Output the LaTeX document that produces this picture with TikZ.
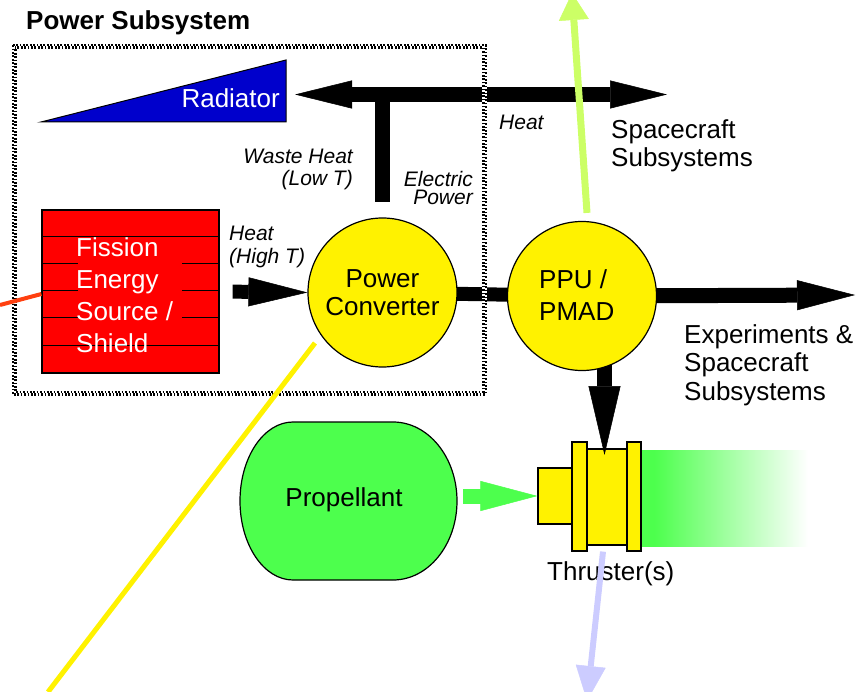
\documentclass[tikz,border=0pt]{standalone}
\usepackage{fontspec}
\setmainfont{Liberation Sans}
\usetikzlibrary{arrows.meta,backgrounds}

\definecolor{radblue}{HTML}{0000CC}
\definecolor{tankgreen}{HTML}{4DFF4D}
\definecolor{raygreen}{HTML}{CCFF66}
\definecolor{rayblue}{HTML}{CCCCFF}
\definecolor{rayred}{HTML}{FF4010}
\pgfdeclarehorizontalshading{plumefade}{100bp}{color(0bp)=(tankgreen); color(25bp)=(tankgreen); color(29bp)=(tankgreen); color(75bp)=(white); color(100bp)=(white)}

\begin{document}
\begin{tikzpicture}[x=1pt, y=-1pt,
  big/.style={font=\fontsize{26}{29}\selectfont, inner sep=0pt},
  note/.style={font=\fontsize{21}{23}\selectfont\itshape, inner sep=0pt},
  bubble/.style={circle, draw, line width=1.2pt, fill=yellow, minimum size=149pt, inner sep=0pt},
  part/.style={draw, line width=1.2pt, fill=yellow, inner sep=0pt},
  heavy/.style={line width=15pt},
  ray/.style={line width=#1}]
\useasboundingbox (0,0) rectangle (859,692);

\node[font=\fontsize{26}{29}\selectfont\bfseries, inner sep=0pt, anchor=base west] (title) at (26,30) {Power Subsystem};

% radiator
\draw[line width=1pt, fill=radblue] (41,122) -- (286,60) -- (286,122) -- cycle;
\node[big, white, anchor=base east] (radiator) at (280,108) {Radiator};

% reactor
\node[draw, line width=1.2pt, fill=red, minimum width=177pt, minimum height=163pt, inner sep=0pt] (fission) at (130.5,291.5) {};
\foreach \y in {237,346}
  \draw[line width=1pt] (fission.west |- 0,\y) -- (fission.east |- 0,\y);
\foreach \y in {264,291,318} {
  \draw[line width=1pt] (fission.west |- 0,\y) -- (78,\y);
  \draw[line width=1pt] (182,\y) -- (fission.east |- 0,\y);
}
\node[big, white, align=left, anchor=west, font=\fontsize{26}{32}\selectfont] (fisslbl) at (76,295) {Fission\\Energy\\Source /\\Shield};

\node[bubble, big, align=center, font=\fontsize{26}{28}\selectfont] (conv) at (382.5,292.5) {Power\\Converter};
\node[bubble] (ppu) at (582,296) {};
\node[big, align=left, anchor=west, font=\fontsize{26}{32}\selectfont] (ppulbl) at (539,295) {PPU /\\PMAD};

% tank
\draw[line width=1.2pt, fill=tankgreen] (293,422) -- (393,422)
  arc[start angle=90, end angle=-90, x radius=64pt, y radius=79pt] -- (293,580)
  arc[start angle=270, end angle=90, x radius=53pt, y radius=79pt] -- cycle;
\node[big] (prop) at (344,500) {Propellant};

\coordinate (busL) at (295,94.5);
\coordinate (busR) at (667,94.5);
\coordinate (expout) at (855,295);
\coordinate (thrtip) at (604.5,455);
\coordinate (propout) at (463,496);

\begin{scope}[on background layer]
\shade[shading=plumefade] (641,450) rectangle (808,546);
\node[part, minimum width=35pt, minimum height=56pt] (nozzle) at (555.5,496) {};
\node[part, minimum width=40pt, minimum height=96pt] (thr) at (607,497) {};
\node[part, minimum width=15pt, minimum height=109pt] (flangeL) at (579.5,496.5) {};
\node[part, minimum width=14pt, minimum height=109pt] (flangeR) at (634,496.5) {};

\draw[heavy, {Triangle[length=57pt,width=28pt,line width=0.5pt]}-{Triangle[length=57pt,width=28pt,line width=0.5pt]}] (busL) -- (busR);
\draw[heavy] (conv.north |- busL) -- ([yshift=15pt]conv.north);
\draw[line width=14pt, -{Triangle[length=59pt,width=29pt,line width=0.5pt]}, shorten <=13pt] (fission.east) -- (conv.west);
\draw[line width=14pt] (conv.center) -- (ppu.center);
\draw[heavy, -{Triangle[length=58pt,width=30pt,line width=0.5pt]}] (ppu.center) -- (expout);
\draw[heavy, -{Triangle[length=69pt,width=32pt,line width=0.5pt]}] (ppu.center -| thrtip) -- (thrtip);
\end{scope}

\node[note, align=right, anchor=east, font=\fontsize{21}{22}\selectfont\itshape] (wastelbl) at (353,169) {Waste Heat\\(Low T)};
\node[note, align=right, anchor=east, font=\fontsize{21}{18}\selectfont\itshape] (eleclbl) at (473,187.5) {Electric\\Power};
\node[note, align=left, anchor=west] (hotlbl) at (229,247) {Heat\\(High T)};
\node[note, anchor=base west] (heatlbl) at (499,130) {Heat};
\node[big, align=left, anchor=west, font=\fontsize{26}{28.4}\selectfont] (sclbl) at (611,146) {Spacecraft\\Subsystems};
\node[big, align=left, anchor=west, font=\fontsize{26}{28.4}\selectfont] (explbl) at (684,365) {Experiments \&\\Spacecraft\\Subsystems};
\node[big, anchor=base west] (thrlbl) at (547,580) {Thruster(s)};

% subsystem frame
\draw[white, line width=5pt] (14,46.5) rectangle (484.5,393);
\draw[line width=2.5pt, dash pattern=on 1.7pt off 1.7pt] (12.75,45.25) rectangle (485.75,394.25);
\draw[line width=2.5pt, dash pattern=on 1.7pt off 1.7pt, dash phase=1.7pt] (15.25,47.75) rectangle (483.25,391.75);

\draw[line width=15pt, tankgreen, -{Triangle[length=57pt,width=30pt,line width=0.5pt]}] (propout) -- (nozzle.west);
\draw[ray=7pt, raygreen, -{Triangle[length=27pt,width=30pt,line width=0.5pt]}] ([xshift=5pt,yshift=8pt]ppu.north) -- (572,-7);
\draw[ray=6pt, rayblue, -{Triangle[length=35pt,width=30pt,line width=0.5pt]}] ([xshift=-4pt,yshift=-6pt]thr.south) -- (587,701);
\draw[ray=5pt, yellow] (315,343) -- (48,692);
\draw[ray=4pt, rayred] (0,305) -- ([yshift=-2.5pt]fission.west);
\end{tikzpicture}
\end{document}
